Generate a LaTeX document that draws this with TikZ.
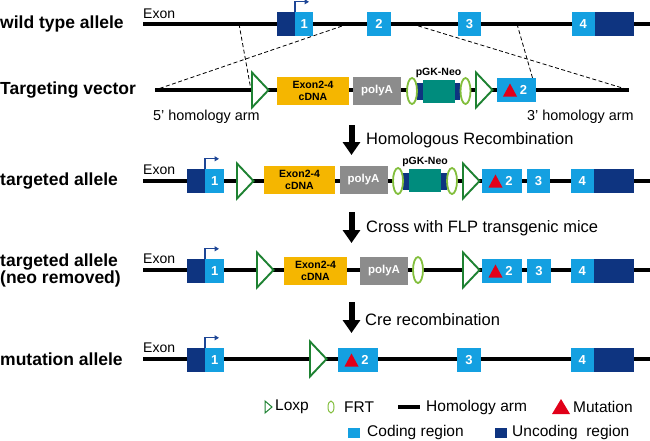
\documentclass[tikz,border=0pt]{standalone}
\usepackage{fontspec}
\setmainfont{Liberation Sans}
\usetikzlibrary{arrows.meta,shapes.geometric}
\definecolor{codeblue}{RGB}{20,160,225}
\definecolor{uncodeblue}{RGB}{14,52,128}
\definecolor{promblue}{RGB}{30,70,150}
\definecolor{cdnaorange}{RGB}{245,182,0}
\definecolor{polygray}{RGB}{140,140,140}
\definecolor{neoteal}{RGB}{0,140,125}
\definecolor{loxpgreen}{RGB}{30,130,50}
\definecolor{frtgreen}{RGB}{130,190,60}
\definecolor{mutred}{RGB}{225,0,25}
\tikzset{
  armline/.style={line width=3.2pt},
  codebox/.style={fill=codeblue,text=white,inner sep=0pt,minimum height=24pt,font=\bfseries\fontsize{13}{13}\selectfont},
  uncodebox/.style={fill=uncodeblue,inner sep=0pt,minimum height=24pt},
  cdnabox/.style={fill=cdnaorange,inner sep=0pt,minimum height=28pt,align=center,font=\bfseries\fontsize{10.5}{12}\selectfont},
  polybox/.style={fill=polygray,text=white,inner sep=0pt,minimum height=28pt,minimum width=48pt,font=\bfseries\fontsize{11.5}{12}\selectfont},
  neobar/.style={fill=uncodeblue,inner sep=0pt,minimum height=17pt},
  neobox/.style={fill=neoteal,inner sep=0pt,minimum height=23pt,minimum width=32pt},
  neolabel/.style={inner sep=0pt,font=\bfseries\fontsize{10.5}{12}\selectfont},
  frtring/.style={ellipse,draw=frtgreen,line width=1.8pt,fill=white,inner sep=0pt,minimum width=10pt,minimum height=26pt},
  loxpmark/.style={draw=loxpgreen,line width=1.9pt,fill=white},
  mutmark/.style={fill=mutred},
  dashlink/.style={line width=0.8pt,dash pattern=on 4pt off 2.5pt},
  bigarrow/.style={line width=6pt,-{Triangle[length=13pt,width=17pt]}},
  promarrow/.style={draw=promblue,line width=1.3pt,-{Triangle[length=4.5pt,width=5pt]}},
  rowlabel/.style={anchor=west,inner sep=0pt,align=left,font=\bfseries\fontsize{17.5}{17}\selectfont},
  exonlabel/.style={anchor=west,inner sep=0pt,font=\fontsize{14}{14}\selectfont},
  armlabel/.style={anchor=base west,inner sep=0pt,font=\fontsize{14.4}{14}\selectfont},
  steptext/.style={anchor=west,inner sep=0pt,font=\fontsize{16.5}{16}\selectfont},
  keytext/.style={anchor=west,inner sep=0pt,font=\fontsize{15.5}{16}\selectfont},
}
\begin{document}
\begin{tikzpicture}[x=1pt,y=-1pt]
  \useasboundingbox (0,0) rectangle (650,440);
  \draw (0,24) node[rowlabel] (wtlab) {wild type allele};
  \draw (0,90) node[rowlabel] (tvlab) {Targeting vector};
  \draw (0,181) node[rowlabel] (talab) {targeted allele};
  \draw (0,270) node[rowlabel] (tnlab) {targeted allele\\(neo removed)};
  \draw (0,359) node[rowlabel] (mulab) {mutation allele};

  \coordinate (wtL) at (143,24);  \coordinate (wtR) at (650,24);
  \coordinate (tvL) at (155,90);  \coordinate (tvR) at (629,90);
  \coordinate (taL) at (143,181); \coordinate (taR) at (650,181);
  \coordinate (tnL) at (143,270); \coordinate (tnR) at (650,270);
  \coordinate (muL) at (143,359); \coordinate (muR) at (650,359);
  \draw[armline] (wtL) -- (wtR);
  \draw[armline] (tvL) -- (tvR);
  \draw[armline] (taL) -- (taR);
  \draw[armline] (tnL) -- (tnR);
  \draw[armline] (muL) -- (muR);

  \coordinate (wa) at (239,24); \coordinate (wb) at (348,24);
  \coordinate (wc) at (412,24); \coordinate (wd) at (517,24);
  \coordinate (tvlox) at (251,90); \coordinate (tvbox) at (536,90);
  \path[dashlink] (wa) edge (tvlox);
  \path[dashlink] (wb) edge (tvL);
  \path[dashlink] (wc) edge (tvR);
  \path[dashlink] (wd) edge (tvbox);

  \draw (143,13.5) node[exonlabel] (wtexon) {Exon};
  \draw (143,170) node[exonlabel] (taexon) {Exon};
  \draw (143,259) node[exonlabel] (tnexon) {Exon};
  \draw (143,348) node[exonlabel] (muexon) {Exon};

  \draw (295,24) node[uncodebox,minimum width=18pt,anchor=east] (wt1u) {};
  \draw (295,24) node[codebox,minimum width=18pt,anchor=west] (wt1) {1};
  \draw (379,24) node[codebox,minimum width=24pt] (wt2) {2};
  \draw (469.5,24) node[codebox,minimum width=23pt] (wt3) {3};
  \draw (595,24) node[codebox,minimum width=23pt,anchor=east] (wt4) {4};
  \draw (595,24) node[uncodebox,minimum width=39pt,anchor=west] (wt4u) {};

  \draw (313,91) node[cdnabox,minimum width=72pt] (tvcdna) {Exon2-4\\cDNA};
  \draw (377,91) node[polybox] (tvpoly) {polyA};
  \draw (438.5,91) node[neobar,minimum width=43pt] (tvbar) {};
  \draw (438.5,91.5) node[neobox] (tvneo) {};
  \draw (438.5,73) node[neolabel] (tvneolab) {pGK-Neo};
  \draw (412,91) node[frtring] (tvfrtA) {};
  \draw (465.5,91) node[frtring] (tvfrtB) {};
  \draw (516.5,90) node[codebox,minimum width=39pt] (tv2) {\hspace*{14pt}2};
  \draw (153,120) node[armlabel] (arm5) {5' homology arm};
  \draw (527,120) node[armlabel] (arm3) {3' homology arm};

  \draw (205,181) node[uncodebox,minimum width=18pt,anchor=east] (ta1u) {};
  \draw (205,181) node[codebox,minimum width=19pt,anchor=west] (ta1) {1};
  \draw (299.5,180) node[cdnabox,minimum width=71pt] (tacdna) {Exon2-4\\cDNA};
  \draw (363.5,180) node[polybox] (tapoly) {polyA};
  \draw (425,181) node[neobar,minimum width=44pt] (tabar) {};
  \draw (425,180.5) node[neobox] (taneo) {};
  \draw (425,162) node[neolabel] (taneolab) {pGK-Neo};
  \draw (398,181) node[frtring] (tafrtA) {};
  \draw (452,181) node[frtring] (tafrtB) {};
  \draw (502,181) node[codebox,minimum width=40pt] (ta2) {\hspace*{14pt}2};
  \draw (538.5,181) node[codebox,minimum width=23pt] (ta3) {3};
  \draw (594,181) node[codebox,minimum width=23pt,anchor=east] (ta4) {4};
  \draw (594,181) node[uncodebox,minimum width=40pt,anchor=west] (ta4u) {};

  \draw (205,271) node[uncodebox,minimum width=18pt,anchor=east] (tn1u) {};
  \draw (205,271) node[codebox,minimum width=19pt,anchor=west] (tn1) {1};
  \draw (315.5,270.5) node[cdnabox,minimum width=63pt] (tncdna) {Exon2-4\\cDNA};
  \draw (384,270.5) node[polybox] (tnpoly) {polyA};
  \draw (418,270) node[frtring] (tnfrt) {};
  \draw (502,271) node[codebox,minimum width=40pt] (tn2) {\hspace*{14pt}2};
  \draw (539,271) node[codebox,minimum width=24pt] (tn3) {3};
  \draw (594,271) node[codebox,minimum width=23pt,anchor=east] (tn4) {4};
  \draw (594,271) node[uncodebox,minimum width=40pt,anchor=west] (tn4u) {};

  \draw (205,360) node[uncodebox,minimum width=18pt,anchor=east] (mu1u) {};
  \draw (205,360) node[codebox,minimum width=19pt,anchor=west] (mu1) {1};
  \draw (358,360) node[codebox,minimum width=40pt] (mu2) {\hspace*{14pt}2};
  \draw (469,360) node[codebox,minimum width=24pt] (mu3) {3};
  \draw (594,360) node[codebox,minimum width=23pt,anchor=east] (mu4) {4};
  \draw (594,360) node[uncodebox,minimum width=40pt,anchor=west] (mu4u) {};

  \foreach \lx/\ly in {252/90,476/90,237/181,463/181,257/270,463/270,310/359}
    \draw[loxpmark] (\lx,\ly-17.5) -- (\lx+16.5,\ly) -- (\lx,\ly+17.5) -- cycle;
  \foreach \m in {tv2,ta2,tn2,mu2}
    \fill[mutmark] ([shift={(-13.5,6.5)}]\m.center) -- ++(14,0) -- ++(-7,-13) -- cycle;
  \foreach \p in {wt1,ta1,tn1,mu1}
    \draw[promarrow] (\p.north west) -- ++(0,-10) -- ++(14,0);

  \coordinate (hrA) at (351.5,125); \coordinate (hrB) at (351.5,155);
  \coordinate (flpA) at (351.5,212); \coordinate (flpB) at (351.5,243);
  \coordinate (creA) at (351.5,302); \coordinate (creB) at (351.5,333);
  \draw[bigarrow] (hrA) -- (hrB);
  \draw[bigarrow] (flpA) -- (flpB);
  \draw[bigarrow] (creA) -- (creB);
  \draw (366,140) node[steptext] (hrtext) {Homologous Recombination};
  \draw (366,228) node[steptext] (flptext) {Cross with FLP transgenic mice};
  \draw (365,320) node[steptext] (cretext) {Cre recombination};

  \draw[loxpmark,line width=1pt] (265,401) -- (272,407) -- (265,413) -- cycle;
  \draw (275,407) node[keytext] (loxpkey) {Loxp};
  \draw (331,407) node[frtring,minimum width=6pt,minimum height=12pt,line width=1pt] (frtmark) {};
  \draw (344,407) node[keytext] (frtkey) {FRT};
  \coordinate (armA) at (398,407); \coordinate (armB) at (420,407);
  \draw[armline] (armA) -- (armB);
  \draw (426,407) node[keytext] (armkey) {Homology arm};
  \fill[mutmark] (552,414) -- (570,414) -- (561,399) -- cycle;
  \draw (573,407) node[keytext] (mutkey) {Mutation};
  \draw (354,432.5) node[codebox,minimum width=12pt,minimum height=10pt] (codemark) {};
  \draw (367,432) node[keytext] (codekey) {Coding region};
  \draw (501,432.5) node[uncodebox,minimum width=12pt,minimum height=10pt] (uncodemark) {};
  \draw (512,432) node[keytext] (uncodekey) {Uncoding\ \ region};
\end{tikzpicture}
\end{document}
